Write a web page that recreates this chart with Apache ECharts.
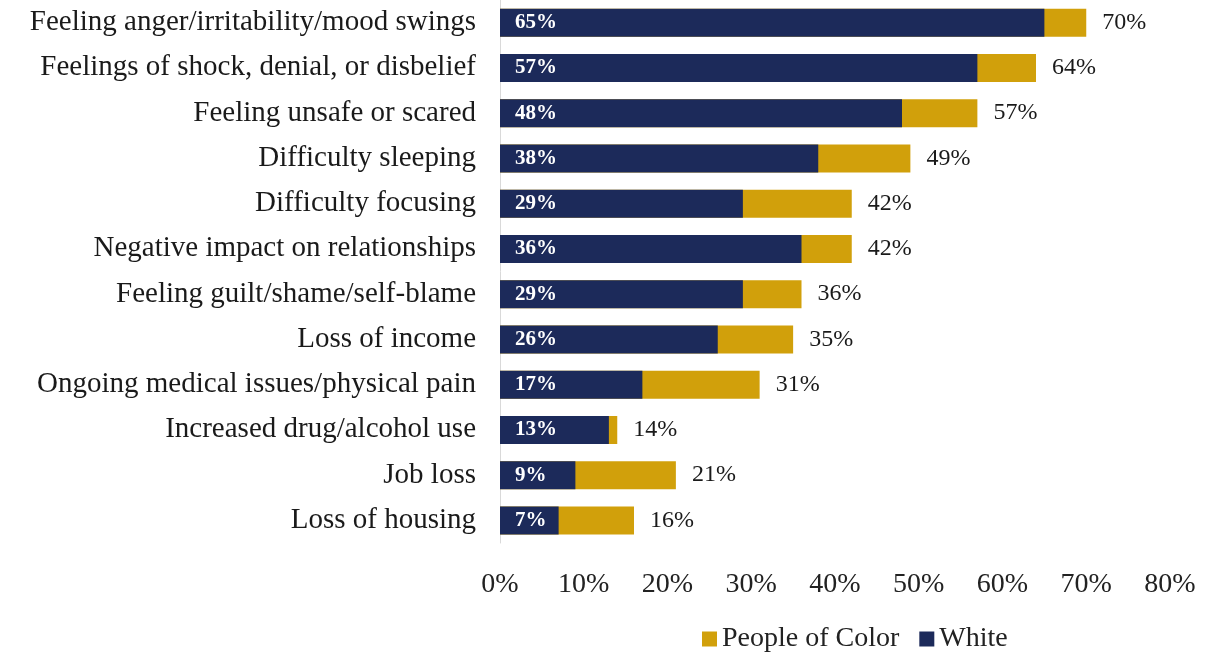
<!DOCTYPE html>
<html>
<head>
<meta charset="utf-8">
<script src="https://cdn.jsdelivr.net/npm/echarts@6/dist/echarts.min.js"></script>
<style>
  html, body { margin: 0; padding: 0; background: #fff; }
  #chart { width: 1205px; height: 662px; }
</style>
</head>
<body>
<div id="chart"></div>
<script>
// categories, top to bottom
let categories = [
    'Feeling anger/irritability/mood swings',
    'Feelings of shock, denial, or disbelief',
    'Feeling unsafe or scared',
    'Difficulty sleeping',
    'Difficulty focusing',
    'Negative impact on relationships',
    'Feeling guilt/shame/self-blame',
    'Loss of income',
    'Ongoing medical issues/physical pain',
    'Increased drug/alcohol use',
    'Job loss',
    'Loss of housing'
];
let peopleOfColor = [70, 64, 57, 49, 42, 42, 36, 35, 31, 14, 21, 16];
let white = [65, 57, 48, 38, 29, 36, 29, 26, 17, 13, 9, 7];
let xTicks = [0, 10, 20, 30, 40, 50, 60, 70, 80];

let serif = "'Liberation Serif', 'DejaVu Serif', serif";
let navy = '#1c2a5a';
let gold = '#d1a00b';

let myChart = echarts.init(document.getElementById('chart'));

let option = {
    animation: false,
    grid: {
        left: 500,
        right: 35,
        top: 0,
        height: 543
    },
    legend: {
        data: ['People of Color', 'White'],
        bottom: 4,
        left: 697,
        itemWidth: 15,
        itemHeight: 15,
        itemGap: 20,
        icon: 'rect',
        textStyle: {fontFamily: serif, fontSize: 28, color: '#222'}
    },
    xAxis: {
        type: 'value',
        min: xTicks[0],
        max: xTicks[xTicks.length - 1],
        interval: 10,
        axisLine: {show: false},
        axisTick: {show: false},
        splitLine: {show: false},
        axisLabel: {
            margin: 28,
            fontFamily: serif,
            fontSize: 28,
            color: '#222',
            formatter: '{value}%'
        }
    },
    yAxis: {
        type: 'category',
        inverse: true,
        data: categories,
        axisLine: {show: true, lineStyle: {color: '#d9d9d9', width: 1}},
        axisTick: {show: false},
        axisLabel: {
            margin: 24,
            fontFamily: serif,
            fontSize: 29,
            color: '#1a1a1a'
        }
    },
    series: [
        {
            name: 'People of Color',
            type: 'bar',
            data: peopleOfColor,
            barWidth: 28,
            itemStyle: {color: gold},
            label: {
                show: true,
                position: 'right',
                distance: 16,
                fontFamily: serif,
                fontSize: 24,
                color: '#1a1a1a',
                formatter: '{c}%'
            }
        },
        {
            name: 'White',
            type: 'bar',
            data: white,
            barWidth: 28,
            barGap: '-100%',
            itemStyle: {color: navy},
            label: {
                show: true,
                position: 'insideLeft',
                distance: 15,
                fontFamily: serif,
                fontWeight: 'bold',
                fontSize: 21,
                color: '#fff',
                formatter: '{c}%'
            }
        }
    ]
};

myChart.setOption(option);
</script>
</body>
</html>
